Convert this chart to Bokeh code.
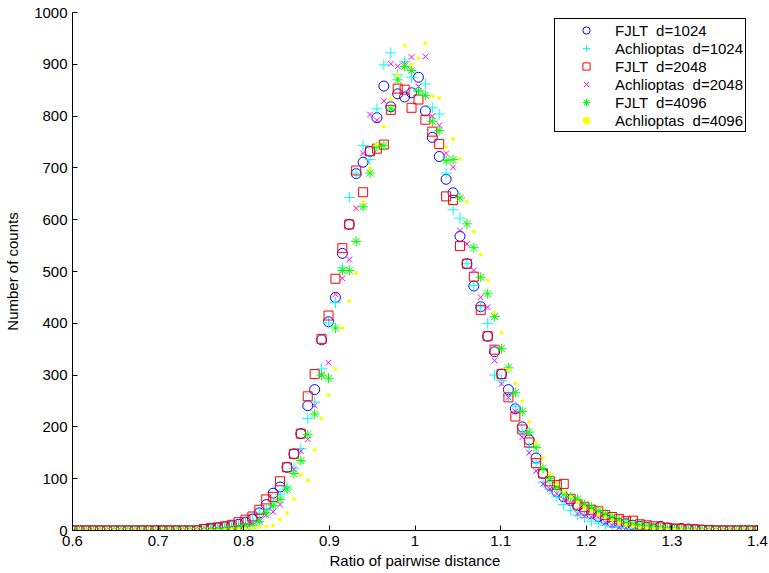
import numpy as np
from bokeh.plotting import figure
from bokeh.models import Legend, LegendItem, FixedTicker, CustomJSTickFormatter, Range1d, ColumnDataSource
from bokeh.embed import file_html
from bokeh.resources import INLINE

# bin centres of the histogram (100 bins between 0.6 and 1.4)
bins = np.linspace(0.6, 1.4, 100)

fjlt_1024 = [0, 0, 0, 0, 0, 0, 0, 0, 0, 0,
             0, 0, 0, 0, 0, 0, 0, 0, 0, 2,
             3, 5, 7, 9, 12, 16, 22, 34, 50, 72,
             84, 122, 148, 187, 241, 272, 368, 403, 450, 535,
             591, 689, 711, 732, 797, 858, 818, 843, 837, 845,
             875, 810, 759, 722, 678, 652, 568, 515, 472, 432,
             375, 345, 302, 272, 235, 200, 175, 140, 110, 87,
             75, 65, 58, 48, 39, 33, 27, 22, 16, 14,
             13, 10, 8, 6, 3, 8, 5, 2, 4, 3,
             2, 1, 0, 0, 0, 0, 0, 0, 0, 0]
ach_1024 = [0, 0, 0, 0, 0, 0, 0, 0, 0, 0,
            0, 0, 0, 0, 0, 0, 0, 0, 0, 1,
            2, 4, 5, 8, 10, 14, 20, 33, 40, 55,
            70, 84, 120, 158, 216, 248, 312, 401, 440, 507,
            643, 690, 743, 716, 814, 899, 922, 880, 905, 875,
            850, 862, 816, 804, 690, 619, 603, 515, 473, 432,
            400, 300, 290, 260, 239, 190, 160, 130, 93, 80,
            65, 50, 39, 30, 25, 18, 14, 10, 8, 6,
            4, 3, 2, 2, 1, 1, 0, 0, 0, 0,
            0, 0, 0, 0, 0, 0, 0, 0, 0, 0]
fjlt_2048 = [0, 0, 0, 0, 0, 0, 0, 0, 0, 0,
             0, 0, 0, 0, 0, 0, 0, 0, 0, 3,
             5, 6, 8, 11, 16, 21, 27, 40, 60, 65,
             95, 122, 148, 187, 259, 302, 370, 415, 486, 545,
             591, 695, 653, 732, 737, 745, 812, 853, 851, 816,
             832, 793, 770, 746, 645, 638, 549, 515, 490, 426,
             375, 349, 302, 257, 220, 195, 170, 130, 110, 95,
             88, 90, 61, 50, 45, 40, 37, 30, 26, 22,
             18, 19, 12, 10, 8, 6, 5, 4, 3, 2,
             2, 1, 1, 0, 0, 0, 0, 0, 0, 0]
ach_2048 = [0, 0, 0, 0, 0, 0, 0, 0, 0, 0,
            0, 0, 0, 0, 0, 0, 0, 0, 0, 1,
            2, 3, 4, 6, 8, 10, 14, 20, 30, 36,
            50, 80, 118, 153, 176, 241, 300, 324, 456, 487,
            523, 622, 728, 803, 792, 829, 901, 896, 900, 914,
            857, 915, 800, 782, 728, 701, 579, 553, 502, 450,
            431, 328, 283, 257, 230, 180, 150, 115, 90, 80,
            71, 60, 53, 32, 28, 26, 26, 15, 10, 6,
            5, 4, 3, 2, 2, 1, 1, 0, 0, 0,
            0, 0, 0, 0, 0, 0, 0, 0, 0, 0]
fjlt_4096 = [0, 0, 0, 0, 0, 0, 0, 0, 0, 0,
             0, 0, 0, 0, 0, 0, 0, 0, 0, 0,
             1, 2, 3, 4, 6, 8, 9, 17, 34, 48,
             60, 80, 110, 135, 185, 225, 300, 294, 391, 502,
             502, 558, 625, 690, 741, 743, 814, 870, 896, 888,
             848, 840, 790, 772, 714, 716, 642, 592, 546, 489,
             457, 413, 351, 314, 266, 230, 190, 160, 120, 100,
             84, 70, 65, 61, 50, 45, 38, 32, 26, 20,
             15, 12, 10, 8, 6, 5, 4, 3, 2, 1,
             0, 0, 0, 0, 0, 0, 0, 0, 0, 0]
ach_4096 = [0, 0, 0, 0, 0, 0, 0, 0, 0, 0,
            0, 0, 0, 0, 0, 0, 0, 0, 0, 0,
            0, 0, 1, 2, 3, 4, 5, 6, 7, 10,
            21, 34, 61, 107, 97, 156, 216, 261, 312, 391,
            443, 497, 635, 700, 745, 780, 832, 880, 936, 900,
            912, 941, 838, 835, 740, 756, 717, 635, 577, 533,
            483, 421, 382, 310, 284, 250, 210, 170, 140, 110,
            90, 75, 65, 55, 45, 38, 30, 25, 20, 15,
            10, 8, 6, 5, 4, 3, 2, 2, 1, 0,
            0, 0, 0, 0, 0, 0, 0, 0, 0, 0]

series_labels = ["FJLT  d=1024", "Achlioptas  d=1024", "FJLT  d=2048",
                 "Achlioptas  d=2048", "FJLT  d=4096", "Achlioptas  d=4096"]
x_ticks = [0.6, 0.7, 0.8, 0.9, 1.0, 1.1, 1.2, 1.3, 1.4]
y_ticks = [0, 100, 200, 300, 400, 500, 600, 700, 800, 900, 1000]

FONT = "Liberation Sans"
FS = "15px"

p = figure(width=769, height=573, output_backend="svg", toolbar_location=None,
           x_range=Range1d(0.6, 1.4), y_range=Range1d(0, 1000),
           min_border_left=72, min_border_right=12, min_border_top=12, min_border_bottom=43)
p.outline_line_color = None
p.grid.visible = False
p.background_fill_color = "white"
p.border_fill_color = "white"

src = ColumnDataSource(dict(x=bins, b=fjlt_1024, c=ach_1024, r=fjlt_2048,
                            m=ach_2048, g=fjlt_4096, y=ach_4096))

r1 = p.scatter("x", "b", source=src, marker="circle", size=10, fill_color=None,
               line_color="#0000ff", line_width=1)
r2 = p.scatter("x", "c", source=src, marker="cross", size=11, line_color="#00ffff", line_width=1)
r3 = p.scatter("x", "r", source=src, marker="square", size=9, fill_color=None,
               line_color="#ff0000", line_width=1)
r4 = p.scatter("x", "m", source=src, marker="x", size=8, line_color="#ff00ff", line_width=1)
r5 = p.scatter("x", "g", source=src, marker="asterisk", size=10, line_color="#00ff00", line_width=1)
r6 = p.scatter("x", "y", source=src, marker="circle", size=3.5, fill_color="#ffff00",
               line_color="#ffff00", line_width=0.5)

renderers = [r1, r2, r3, r4, r5, r6]
legend = Legend(items=[LegendItem(label=l, renderers=[r]) for l, r in zip(series_labels, renderers)],
                location=(482, 398), orientation="vertical",
                border_line_color="black", border_line_width=1, border_line_alpha=1,
                background_fill_color="white", background_fill_alpha=1,
                padding=2, spacing=0, margin=0, glyph_width=58, glyph_height=18,
                label_height=18, label_standoff=0,
                label_text_font=FONT, label_text_font_size=FS, label_text_color="black")
p.add_layout(legend, "center")

for ax in (p.xaxis[0], p.yaxis[0]):
    ax.axis_line_color = "black"
    ax.axis_line_width = 1
    ax.major_tick_in = 5
    ax.major_tick_out = 0
    ax.minor_tick_line_color = None
    ax.major_tick_line_color = "black"
    ax.major_label_text_font = FONT
    ax.major_label_text_font_size = FS
    ax.major_label_text_color = "black"
    ax.axis_label_text_font = FONT
    ax.axis_label_text_font_size = FS
    ax.axis_label_text_font_style = "normal"
    ax.axis_label_text_color = "black"

p.xaxis.ticker = FixedTicker(ticks=x_ticks)
p.yaxis.ticker = FixedTicker(ticks=y_ticks)
p.xaxis.formatter = CustomJSTickFormatter(code="return Number(tick.toFixed(1)).toString();")
p.xaxis.axis_label = "Ratio of pairwise distance"
p.yaxis.axis_label = "Number of counts"
p.xaxis.major_label_standoff = 5
p.yaxis.major_label_standoff = 5
p.xaxis.axis_label_standoff = 3
p.yaxis.axis_label_standoff = 10

open("out.html", "w").write(file_html(p, INLINE))
